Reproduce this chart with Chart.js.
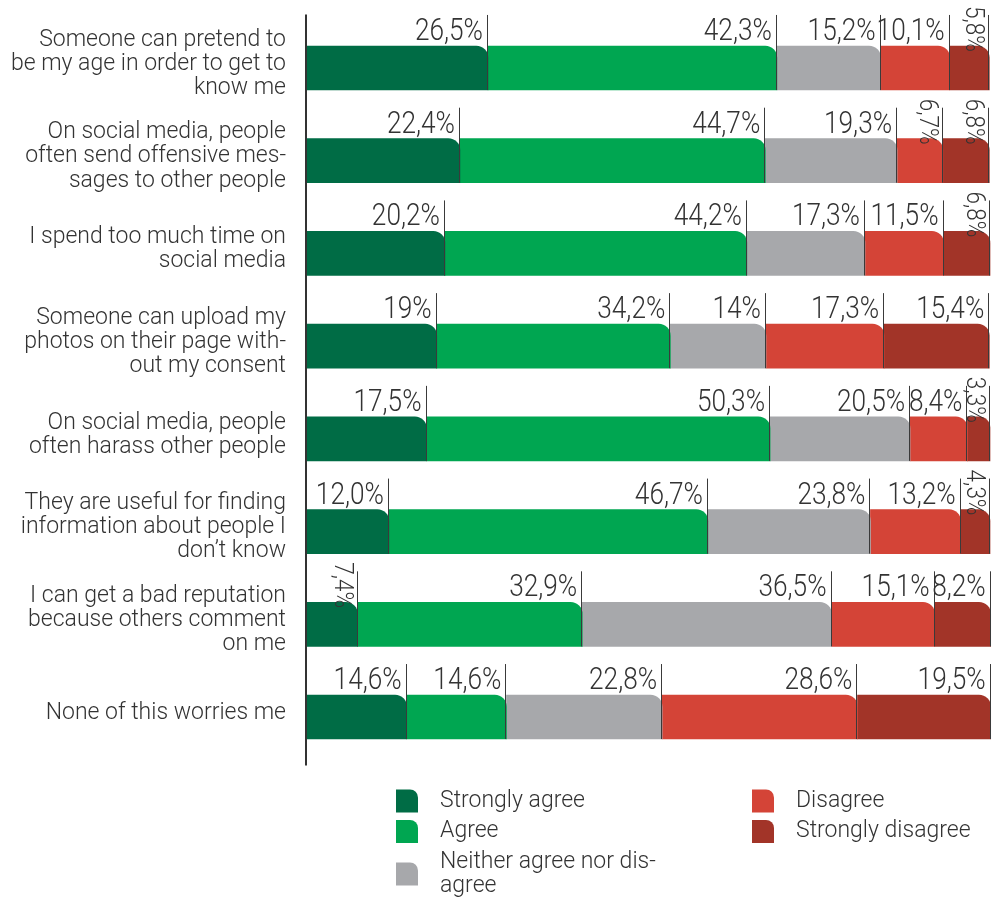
<!DOCTYPE html>
<html>
<head>
<meta charset="utf-8">
<title>Social media worries</title>
<script src="https://cdn.jsdelivr.net/npm/chart.js@4.4.1/dist/chart.umd.min.js"></script>
<style>
  html, body { margin: 0; padding: 0; background: #ffffff; }
  #wrap { position: relative; width: 992px; height: 897px; }
</style>
</head>
<body>
<div id="wrap"><canvas id="worriesChart"></canvas></div>
<script>
// statements, already broken into lines the way they are printed
const categories = [
    ['Someone can pretend to', 'be my age in order to get to', 'know me'],
    ['On social media, people', 'often send offensive mes-', 'sages to other people'],
    ['I spend too much time on', 'social media'],
    ['Someone can upload my', 'photos on their page with-', 'out my consent'],
    ['On social media, people', 'often harass other people'],
    ['They are useful for finding', 'information about people I', 'don’t know'],
    ['I can get a bad reputation', 'because others comment', 'on me'],
    'None of this worries me'
];

const seriesNames = ['Strongly agree', 'Agree', 'Neither agree nor disagree', 'Disagree', 'Strongly disagree'];
const legendLines = [['Strongly agree'], ['Agree'], ['Neither agree nor dis-', 'agree'], ['Disagree'], ['Strongly disagree']];
const seriesColors = ['#006c45', '#00a651', '#a7a8ab', '#d44437', '#a23428'];

// percentages as printed (decimal comma)
const stronglyAgree    = ['26,5', '22,4', '20,2', '19',   '17,5', '12,0', '7,4',  '14,6'];
const agree            = ['42,3', '44,7', '44,2', '34,2', '50,3', '46,7', '32,9', '14,6'];
const neither          = ['15,2', '19,3', '17,3', '14',   '20,5', '23,8', '36,5', '22,8'];
const disagree         = ['10,1', '6,7',  '11,5', '17,3', '8,4',  '13,2', '15,1', '28,6'];
const stronglyDisagree = ['5,8',  '6,8',  '6,8',  '15,4', '3,3',  '4,3',  '8,2',  '19,5'];

const seriesValues = [stronglyAgree, agree, neither, disagree, stronglyDisagree];
const toNumber = (s) => parseFloat(s.replace(',', '.'));

const FONT = 'Roboto';
const TEXT_COLOR = '#333333';

// value labels + separator lines over each segment
const segmentLabels = {
    id: 'segmentLabels',
    afterDatasetsDraw(chart) {
        const ctx = chart.ctx;
        chart.data.datasets.forEach((ds, di) => {
            const meta = chart.getDatasetMeta(di);
            meta.data.forEach((bar, i) => {
                const end = bar.x;
                const top = bar.y - bar.height / 2;
                const bottom = bar.y + bar.height / 2;
                const lx = Math.round(end) - 0.5;

                ctx.save();
                ctx.strokeStyle = '#3a3a3a';
                ctx.lineWidth = 1;
                ctx.beginPath();
                ctx.moveTo(lx, top - 31);
                ctx.lineTo(lx, bottom);
                ctx.stroke();

                const text = ds.valueLabels[i] + '%';
                ctx.fillStyle = TEXT_COLOR;
                if (ds.data[i] < 8) {
                    // narrow segment: label turned on its side
                    ctx.translate(end - 3, top - 40);
                    ctx.rotate(Math.PI / 2);
                    ctx.scale(0.9, 1);
                    ctx.font = '300 25px ' + FONT;
                    ctx.textAlign = 'left';
                    ctx.textBaseline = 'alphabetic';
                    ctx.fillText(text, 0, 20);
                } else {
                    ctx.translate(end - 5, top - 6);
                    ctx.scale(0.82, 1);
                    ctx.font = '300 32px ' + FONT;
                    ctx.textAlign = 'right';
                    ctx.textBaseline = 'alphabetic';
                    ctx.fillText(text, 0, 0);
                }
                ctx.restore();
            });
        });

        // category axis line
        const area = chart.chartArea;
        ctx.save();
        ctx.strokeStyle = '#333333';
        ctx.lineWidth = 2;
        ctx.beginPath();
        ctx.moveTo(area.left - 1, area.top - 7);
        ctx.lineTo(area.left - 1, area.bottom + 2);
        ctx.stroke();
        ctx.restore();
    }
};

function swatch(ctx, x, y, w, h, r, color) {
    ctx.fillStyle = color;
    ctx.beginPath();
    ctx.moveTo(x, y);
    ctx.lineTo(x + w - r, y);
    ctx.arcTo(x + w, y, x + w, y + r, r);
    ctx.lineTo(x + w, y + h);
    ctx.lineTo(x, y + h);
    ctx.closePath();
    ctx.fill();
}

// two-column legend under the bars
const columnLegend = {
    id: 'columnLegend',
    afterDraw(chart) {
        const ctx = chart.ctx;
        const colX = [396, 752];
        const firstRow = 801;
        const rowStep = 30.5;
        const lineStep = 24;
        ctx.save();
        ctx.font = '300 23px ' + FONT;
        ctx.textAlign = 'left';
        ctx.textBaseline = 'middle';
        chart.data.datasets.forEach((ds, i) => {
            const col = i < 3 ? 0 : 1;
            const row = col === 0 ? i : i - 3;
            const cy = firstRow + row * rowStep;
            const lines = legendLines[i];
            const mid = cy + (lines.length - 1) * lineStep / 2;
            swatch(ctx, colX[col], mid - 11.5, 22, 23, 8, ds.backgroundColor);
            ctx.fillStyle = TEXT_COLOR;
            lines.forEach((ln, k) => ctx.fillText(ln, colX[col] + 44, cy + k * lineStep));
        });
        ctx.restore();
    }
};

const datasets = seriesNames.map((name, s) => ({
    label: name,
    data: seriesValues[s].map(toNumber),
    valueLabels: seriesValues[s],
    backgroundColor: seriesColors[s],
    borderWidth: 0,
    borderSkipped: 'start',
    borderRadius: { topRight: 12 },
    barThickness: 44,
    clip: false
}));

new Chart(document.getElementById('worriesChart'), {
    type: 'bar',
    data: { labels: categories, datasets: datasets },
    options: {
        indexAxis: 'y',
        responsive: true,
        maintainAspectRatio: false,
        animation: false,
        devicePixelRatio: 1,
        layout: {
            padding: { top: 21.6, bottom: 133.6, left: 0, right: 2 }
        },
        plugins: {
            legend: { display: false },
            tooltip: { enabled: false }
        },
        scales: {
            x: {
                stacked: true,
                min: 0,
                max: 100,
                display: false
            },
            y: {
                stacked: true,
                grid: { display: false, drawTicks: false },
                border: { display: false },
                afterFit(scale) {
                    scale.width = 307;
                    // the multi-line labels must not push the plot area inwards
                    scale.paddingTop = 0;
                    scale.paddingBottom = 0;
                },
                ticks: {
                    color: TEXT_COLOR,
                    padding: 21,
                    labelOffset: -4,
                    font: { family: FONT, weight: 300, size: 23, lineHeight: 1.05 }
                }
            }
        }
    },
    plugins: [segmentLabels, columnLegend]
});
</script>
</body>
</html>
